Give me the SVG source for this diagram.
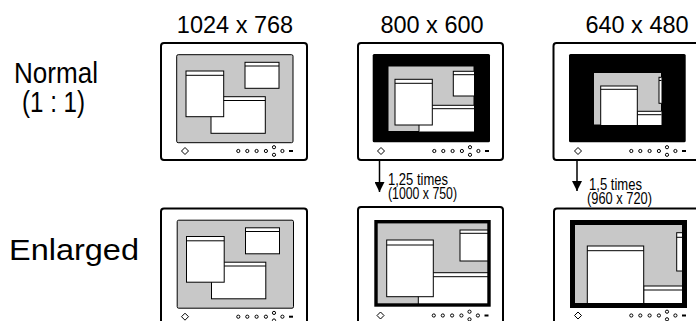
<svg xmlns="http://www.w3.org/2000/svg" width="696" height="321" viewBox="0 0 696 321">
<style>
.lbl{font-family:"Liberation Sans",Arial,sans-serif;fill:#000}
.frame{fill:#fff;stroke:#000;stroke-width:2}
.scr{fill:#c8c8c8;stroke:#000;stroke-width:1}
.blk{fill:#000}
.win{fill:#fff;stroke:#000;stroke-width:1}
.ln{stroke:#000;stroke-width:1;fill:none}
.ctl{fill:#fff;stroke:#000;stroke-width:1}
.arr{stroke:#000;stroke-width:1.5;fill:none}
</style>
<defs>
<g id="ctrls">
<path class="ctl" d="M0,-3.5 L3.5,0 L0,3.5 L-3.5,0 Z"/>
<circle class="ctl" cx="53.3" cy="0" r="1.6"/>
<circle class="ctl" cx="62.3" cy="0" r="1.6"/>
<circle class="ctl" cx="71.6" cy="0" r="1.6"/>
<circle class="ctl" cx="80.9" cy="0" r="1.6"/>
<circle class="ctl" cx="89" cy="-3.8" r="1.6"/>
<circle class="ctl" cx="89" cy="3.8" r="1.6"/>
<circle class="ctl" cx="97.4" cy="0" r="1.6"/>
<line x1="104" y1="0" x2="108" y2="0" stroke="#000" stroke-width="2"/>
</g>
<clipPath id="c2"><rect x="388" y="66" width="86" height="65.5"/></clipPath>
<clipPath id="c3"><rect x="593.5" y="72.5" width="68" height="52.5"/></clipPath>
<clipPath id="c5"><rect x="377.5" y="223.5" width="111.5" height="81.5"/></clipPath>
<clipPath id="c6"><rect x="575" y="225" width="107.5" height="78.5"/></clipPath>
<marker id="ah" markerWidth="10" markerHeight="10" refX="10" refY="5" orient="auto" markerUnits="userSpaceOnUse" viewBox="0 0 10 10">
<path d="M0,0 L10,5 L0,10 Z" fill="#000"/>
</marker>
</defs>

<g id="titles">
<text class="lbl" x="235" y="33" font-size="23.5" text-anchor="middle">1024 x 768</text>
<text class="lbl" x="432" y="33" font-size="23.5" text-anchor="middle">800 x 600</text>
<text class="lbl" x="637" y="33" font-size="23.5" text-anchor="middle">640 x 480</text>
</g>

<g id="row-labels">
<text class="lbl" x="14" y="83" font-size="29" textLength="84" lengthAdjust="spacingAndGlyphs">Normal</text>
<text class="lbl" x="22" y="112" font-size="29" textLength="63" lengthAdjust="spacingAndGlyphs">(1 : 1)</text>
<text class="lbl" x="9" y="260" font-size="30" textLength="130" lengthAdjust="spacingAndGlyphs">Enlarged</text>
</g>

<g id="mon-1024-normal">
<rect class="frame" x="161" y="43" width="146" height="117" rx="3"/>
<rect class="scr" x="176.7" y="54.7" width="116.3" height="88" rx="1.5"/>
<rect class="win" x="211" y="96.7" width="54.3" height="36.6"/><line class="ln" x1="211" y1="100.5" x2="265.3" y2="100.5"/>
<rect class="win" x="186" y="71" width="37.7" height="45.7"/><line class="ln" x1="186" y1="75.3" x2="223.7" y2="75.3"/>
<rect class="win" x="245" y="62.3" width="34" height="26"/><line class="ln" x1="245" y1="66" x2="279" y2="66"/>
<use href="#ctrls" x="185" y="151"/>
</g>

<g id="mon-800-normal">
<rect class="frame" x="358" y="43" width="145" height="117" rx="3"/>
<rect class="blk" x="372.7" y="54" width="117.3" height="88.3" rx="1.5"/>
<rect class="scr" x="388" y="66" width="86" height="65.5"/>
<g clip-path="url(#c2)">
<rect class="win" x="419" y="105.3" width="70" height="40"/><line class="ln" x1="419" y1="108.7" x2="489" y2="108.7"/>
<rect class="win" x="395" y="79.3" width="37.3" height="45.7"/><line class="ln" x1="395" y1="83.3" x2="432.3" y2="83.3"/>
<rect class="win" x="453.3" y="71.3" width="34" height="24.7"/><line class="ln" x1="453.3" y1="74.7" x2="487.3" y2="74.7"/>
</g>
<use href="#ctrls" x="381" y="151"/>
</g>

<g id="mon-640-normal">
<rect class="frame" x="553.5" y="43" width="150" height="117" rx="3"/>
<rect class="blk" x="569" y="54" width="116.7" height="88.3" rx="1.5"/>
<rect class="scr" x="593.5" y="72.5" width="68" height="52.5"/>
<g clip-path="url(#c3)">
<rect class="win" x="637.3" y="111.3" width="50" height="30"/><line class="ln" x1="637.3" y1="114.7" x2="687.3" y2="114.7"/>
<rect class="win" x="600.7" y="86" width="36.6" height="50"/><line class="ln" x1="600.7" y1="89.3" x2="637.3" y2="89.3"/>
<rect class="win" x="659" y="77.3" width="20" height="26"/><line class="ln" x1="659" y1="80.5" x2="679" y2="80.5"/>
</g>
<use href="#ctrls" x="578" y="151"/>
</g>

<g id="mon-1024-enlarged">
<rect class="frame" x="161" y="208.5" width="146" height="130" rx="3"/>
<rect class="scr" x="177.2" y="220.2" width="116.3" height="88" rx="1.5"/>
<rect class="win" x="211.5" y="262.2" width="54.3" height="36.6"/><line class="ln" x1="211.5" y1="266" x2="265.8" y2="266"/>
<rect class="win" x="186.5" y="236.5" width="37.7" height="45.7"/><line class="ln" x1="186.5" y1="240.8" x2="224.2" y2="240.8"/>
<rect class="win" x="245.5" y="227.8" width="34" height="26"/><line class="ln" x1="245.5" y1="231.5" x2="279.5" y2="231.5"/>
<use href="#ctrls" x="185" y="316.7"/>
</g>

<g id="mon-800-enlarged">
<rect class="frame" x="358" y="207" width="145" height="130" rx="3"/>
<rect class="scr" x="376" y="221.7" width="113" height="83.3" stroke-width="3.4"/>
<g clip-path="url(#c5)">
<rect class="win" x="418.3" y="272.7" width="80" height="40"/><line class="ln" x1="418.3" y1="276.7" x2="498.3" y2="276.7"/>
<rect class="win" x="386.7" y="240" width="46.6" height="56.7"/><line class="ln" x1="386.7" y1="245" x2="433.3" y2="245"/>
<rect class="win" x="460" y="230" width="40" height="31"/><line class="ln" x1="460" y1="233.3" x2="500" y2="233.3"/>
</g>
<rect x="376" y="221.7" width="113" height="83.3" fill="none" stroke="#000" stroke-width="3.4"/>
<use href="#ctrls" x="380.5" y="315.5"/>
</g>

<g id="mon-640-enlarged">
<rect class="frame" x="554" y="208.5" width="150" height="130" rx="3"/>
<rect class="scr" x="572.5" y="222.5" width="112" height="83" stroke-width="5"/>
<g clip-path="url(#c6)">
<rect class="win" x="643.7" y="286" width="50" height="30"/><line class="ln" x1="643.7" y1="290" x2="693.7" y2="290"/>
<rect class="win" x="587.3" y="246" width="56.4" height="70"/><line class="ln" x1="587.3" y1="250.7" x2="643.7" y2="250.7"/>
<rect class="win" x="676.7" y="232.7" width="20" height="38.3"/><line class="ln" x1="676.7" y1="237.3" x2="696.7" y2="237.3"/>
</g>
<rect x="572.5" y="222.5" width="112" height="83" fill="none" stroke="#000" stroke-width="5"/>
<use href="#ctrls" x="578" y="315.5"/>
</g>

<g id="connectors">
<line class="arr" x1="379.5" y1="160" x2="379.5" y2="192" marker-end="url(#ah)"/>
<line class="arr" x1="577" y1="160" x2="577" y2="191" marker-end="url(#ah)"/>
<text class="lbl" x="388" y="184.5" font-size="16.5" textLength="60" lengthAdjust="spacingAndGlyphs">1,25 times</text>
<text class="lbl" x="388" y="198.5" font-size="16.5" textLength="69" lengthAdjust="spacingAndGlyphs">(1000 x 750)</text>
<text class="lbl" x="589" y="189.5" font-size="16.5" textLength="53" lengthAdjust="spacingAndGlyphs">1,5 times</text>
<text class="lbl" x="587" y="203.5" font-size="16.5" textLength="65" lengthAdjust="spacingAndGlyphs">(960 x 720)</text>
</g>
</svg>
